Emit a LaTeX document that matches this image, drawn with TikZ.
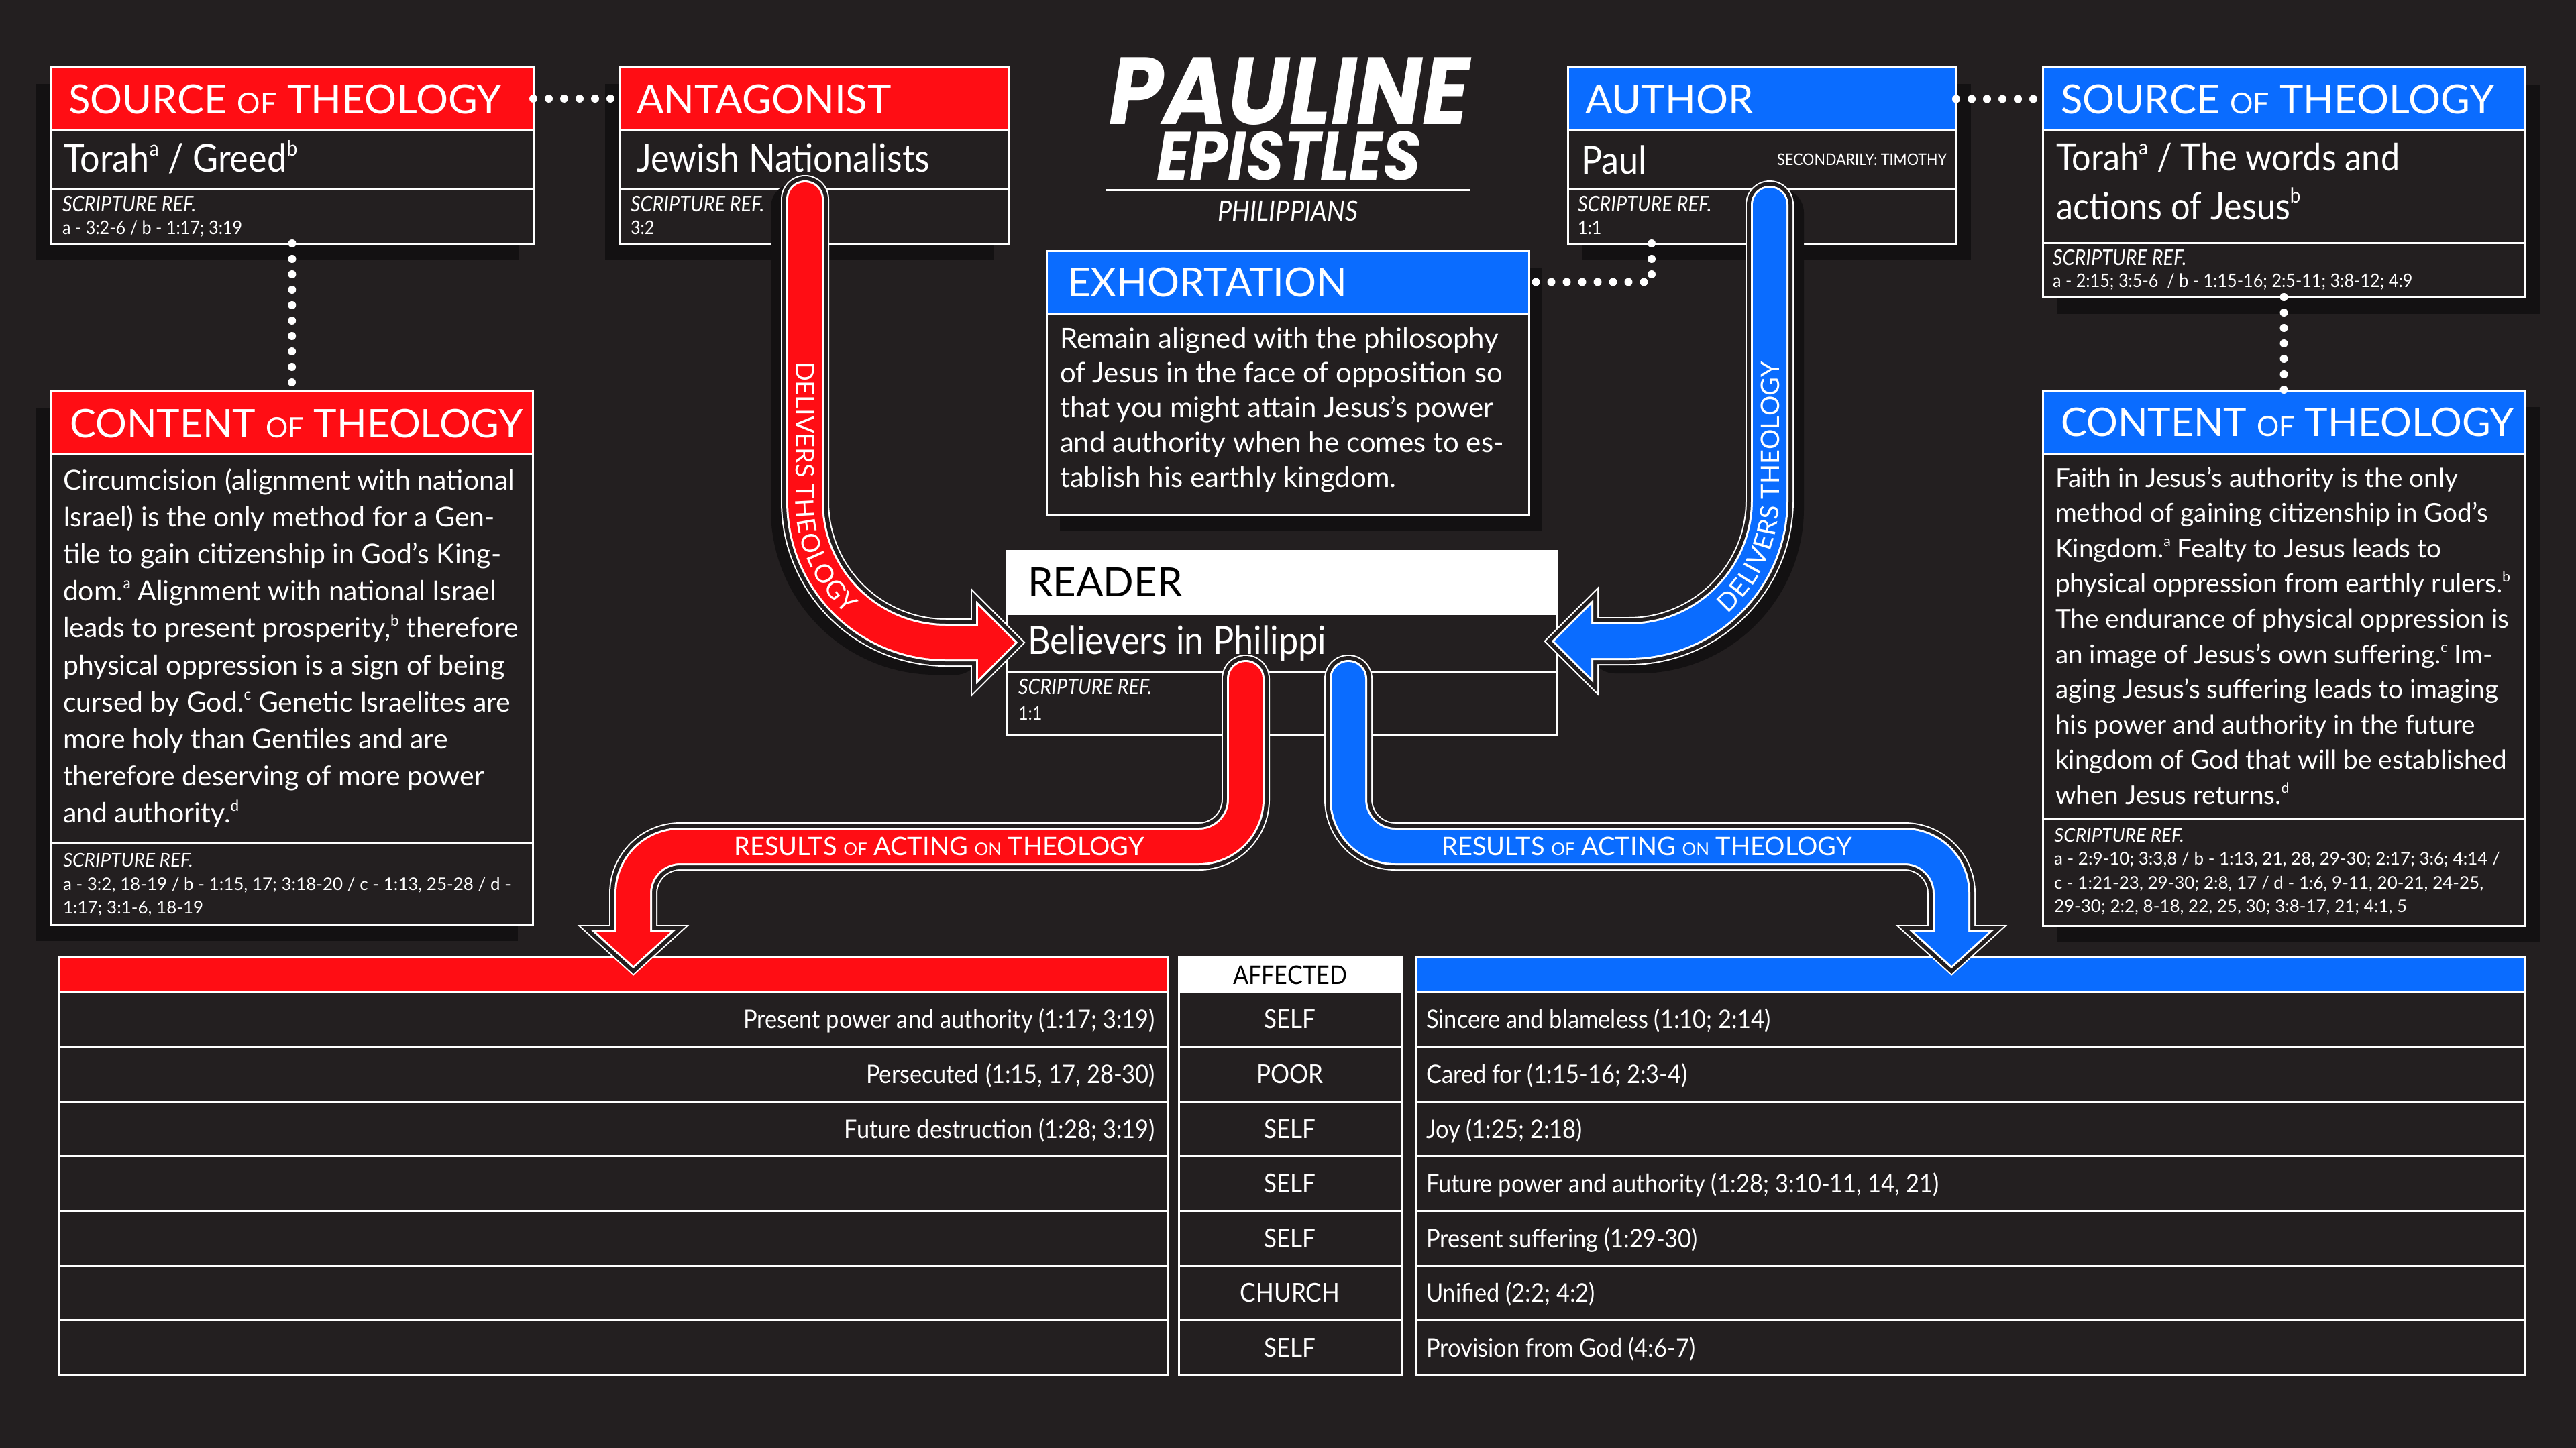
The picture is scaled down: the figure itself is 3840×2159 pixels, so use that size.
\documentclass[tikz,border=0pt]{standalone}
\usepackage{fontspec}
\usepackage{graphicx}
\setmainfont{Lato}
\newfontfamily\cond{Lato}[FakeStretch=0.9]
\newfontfamily\titlef{Poppins}
\usetikzlibrary{decorations.text}
\definecolor{bg}{RGB}{35,31,32}
\definecolor{shadowc}{RGB}{19,17,18}
\definecolor{myred}{RGB}{255,13,20}
\definecolor{myblue}{RGB}{10,108,255}
\newcommand\fs[1]{\fontsize{#1}{#1}\selectfont}
\newcommand\sups[1]{\raisebox{0.43em}{\scalebox{0.55}{#1}}}
\newcommand\cellnode[6]{\node[cell,fill=#6,minimum width={(#4-#2)*1pt},minimum height={(#5-#3)*1pt}] (#1) at (#2,-#3) {};}
\newcommand\shadowrect[5]{\fill[shadowc] ({#1+#5},{-#2-25}) rectangle ({#3+#5},{-#4-25});}
\newcommand\fancyarrow[4]{%
 \draw[white,line width=72pt,line cap=round,rounded corners=#4] #2;
 \filldraw[white,line width=22pt,line join=miter] #3;
 \draw[bg,line width=68pt,line cap=round,rounded corners=#4] #2;
 \filldraw[bg,line width=18pt,line join=miter] #3;
 \draw[white,line width=56pt,line cap=round,rounded corners=#4] #2;
 \filldraw[white,line width=6pt,line join=miter] #3;
 \draw[#1,line width=50pt,line cap=round,rounded corners=#4] #2;
 \fill[#1] #3;}
\tikzset{
 cell/.style={draw=white,line width=3pt,inner sep=0pt,outer sep=0pt,anchor=north west,rectangle},
 txt/.style={text=white,inner sep=0pt,outer sep=0pt,anchor=base west},
 dots/.style={white,line width=12pt,line cap=round,dash pattern=on 0pt off 23pt},
 reftitle/.style={txt,font=\cond\itshape\fs{32}},
 reftext/.style={txt,font=\cond\fs{28}},
 creftitle/.style={txt,font=\itshape\fs{28}},
 creftext/.style={txt,font=\fs{26}},
 tubeshadow/.style={shadowc,line width=72pt,line cap=round,rounded corners=210pt},
}
\begin{document}
\begin{tikzpicture}[x=1pt,y=1pt]
\fill[bg] (0,0) rectangle (3840,-2159);
\useasboundingbox (0,0) rectangle (3840,-2159);
% shadows
\shadowrect{76}{100}{795}{363}{-22}
\shadowrect{924}{100}{1503}{363}{-22}
\shadowrect{2337}{100}{2916}{363}{22}
\shadowrect{3045}{101}{3764}{443}{22}
\shadowrect{1560}{374}{2279}{767}{20}
\shadowrect{76}{583}{794}{1378}{-22}
\shadowrect{3045}{582}{3764}{1380}{22}
% boxes
\cellnode{srcLh}{76}{100}{795}{194}{myred}
\cellnode{srcLb}{76}{194}{795}{282}{bg}
\cellnode{srcLr}{76}{282}{795}{363}{bg}
\cellnode{antH}{924}{100}{1503}{194}{myred}
\cellnode{antB}{924}{194}{1503}{282}{bg}
\cellnode{antR}{924}{282}{1503}{363}{bg}
\cellnode{autH}{2337}{100}{2916}{195}{myblue}
\cellnode{autB}{2337}{195}{2916}{282}{bg}
\cellnode{autR}{2337}{282}{2916}{363}{bg}
\cellnode{srcRh}{3045}{101}{3764}{194}{myblue}
\cellnode{srcRb}{3045}{194}{3764}{362}{bg}
\cellnode{srcRr}{3045}{362}{3764}{443}{bg}
\cellnode{exH}{1560}{374}{2279}{467}{myblue}
\cellnode{exB}{1560}{467}{2279}{767}{bg}
\cellnode{conLh}{76}{583}{794}{677}{myred}
\cellnode{conLb}{76}{677}{794}{1257}{bg}
\cellnode{conLr}{76}{1257}{794}{1378}{bg}
\cellnode{conRh}{3045}{582}{3764}{676}{myblue}
\cellnode{conRb}{3045}{676}{3764}{1221}{bg}
\cellnode{conRr}{3045}{1221}{3764}{1380}{bg}
\cellnode{rdH}{1501}{821}{2321}{915}{white}
\cellnode{rdB}{1501}{915}{2321}{1002}{bg}
\cellnode{rdR}{1501}{1002}{2321}{1095}{bg}
% dotted connectors
\draw[dots] (srcLh.east) -- (antH.west);
\draw[dots] (autH.east) -- (srcRh.west);
\draw[dots] (srcLr.south) -- (conLh.north);
\draw[dots] (srcRr.south) -- (conRh.north);
\coordinate (exTop) at (2462,-363);
\draw[dots] (exTop) |- (exH.east);
% title
\node[font=\titlef\bfseries\itshape\fs{142},text=white,inner sep=0pt,anchor=base] (title1) at (1922,-186) {\scalebox{0.915}[1]{PAULINE}};
\node[font=\titlef\bfseries\itshape\fs{102},text=white,inner sep=0pt,anchor=base] (title2) at (1921,-269) {\scalebox{0.895}[1]{EPISTLES}};
\draw[white,line width=3pt] (1648,-284) -- (2191,-284);
\node[txt,anchor=base,font=\cond\itshape\fs{42}] (phil) at (1920,-329) {PHILIPPIANS};
% headers
\node[txt,font=\fs{60}] (tSrcL) at (102,-170) {SOURCE {\fs{43}OF} THEOLOGY};
\node[txt,font=\fs{60}] (tAnt) at (949,-170) {ANTAGONIST};
\node[txt,font=\fs{60}] (tAut) at (2363,-170) {AUTHOR};
\node[txt,font=\fs{60}] (tSrcR) at (3072,-170) {SOURCE {\fs{43}OF} THEOLOGY};
\node[txt,font=\fs{60}] (tEx) at (1591,-442) {EXHORTATION};
\node[txt,font=\fs{58.5}] (tConL) at (104,-652) {CONTENT {\fs{41.5}OF} THEOLOGY};
\node[txt,font=\fs{58.5}] (tConR) at (3072,-650) {CONTENT {\fs{41.5}OF} THEOLOGY};
\node[txt,text=black,font=\fs{60}] (tRd) at (1532,-889) {READER};
% row 2 texts
\node[txt,font=\cond\fs{58}] (tTG) at (95,-257) {Torah\sups{a} / Greed\sups{b}};
\node[txt,font=\cond\fs{58}] (tJN) at (949,-257) {Jewish Nationalists};
\node[txt,font=\cond\fs{58}] (tPaul) at (2357,-260) {Paul};
\node[txt,font=\cond\fs{24},anchor=base east] (tSec) at (2902,-247) {SECONDARILY: TIMOTHY};
\node[txt,font=\cond\fs{56}] (tTW1) at (3065,-255) {Torah\sups{a} / The words and};
\node[txt,font=\cond\fs{56}] (tTW2) at (3065,-327) {actions of Jesus\sups{b}};
\node[txt,font=\cond\fs{58}] (tBel) at (1532,-975) {Believers in Philippi};
% scripture refs
\node[reftitle] (s1a) at (93,-316) {SCRIPTURE REF.};
\node[reftext] (s1b) at (93,-349) {a - 3:2-6 / b - 1:17; 3:19};
\node[reftitle] (s2a) at (940,-316) {SCRIPTURE REF.};
\node[reftext] (s2b) at (940,-349) {3:2};
\node[reftitle] (s3a) at (2352,-316) {SCRIPTURE REF.};
\node[reftext] (s3b) at (2352,-349) {1:1};
\node[reftitle] (s4a) at (3060,-395) {SCRIPTURE REF.};
\node[reftext] (s4b) at (3060,-428) {a - 2:15; 3:5-6 \ / b - 1:15-16; 2:5-11; 3:8-12; 4:9};
\node[reftitle] (s5a) at (1518,-1035) {SCRIPTURE REF.};
\node[reftext] (s5b) at (1518,-1073) {1:1};
\node[creftitle] (c1a) at (94,-1292) {SCRIPTURE REF.};
\node[creftext] (c1b) at (94,-1327) {a - 3:2, 18-19 / b - 1:15, 17; 3:18-20 / c - 1:13, 25-28 / d -};
\node[creftext] (c1c) at (94,-1362) {1:17; 3:1-6, 18-19};
\node[creftitle] (c2a) at (3062,-1255) {SCRIPTURE REF.};
\node[creftext] (c2b) at (3062,-1289) {a - 2:9-10; 3:3,8 / b - 1:13, 21, 28, 29-30; 2:17; 3:6; 4:14 /};
\node[creftext] (c2c) at (3062,-1325) {c - 1:21-23, 29-30; 2:8, 17 / d - 1:6, 9-11, 20-21, 24-25,};
\node[creftext] (c2d) at (3062,-1360) {29-30; 2:2, 8-18, 22, 25, 30; 3:8-17, 21; 4:1, 5};
% body texts
\foreach \t [count=\i] in {{Circumcision (alignment with national},{Israel) is the only method for a Gen-},{tile to gain citizenship in God’s King-},{dom.\sups{a} Alignment with national Israel},{leads to present prosperity,\sups{b} therefore},{physical oppression is a sign of being},{cursed by God.\sups{c} Genetic Israelites are},{more holy than Gentiles and are},{therefore deserving of more power},{and authority.\sups{d}}}
 \node[txt,font=\fs{41}] (bl\i) at (94,{-730-(\i-1)*55.2}) {\t};
\foreach \t [count=\i] in {{Faith in Jesus’s authority is the only},{method of gaining citizenship in God’s},{Kingdom.\sups{a} Fealty to Jesus leads to},{physical oppression from earthly rulers.\sups{b}},{The endurance of physical oppression is},{an image of Jesus’s own suffering.\sups{c} Im-},{aging Jesus’s suffering leads to imaging},{his power and authority in the future},{kingdom of God that will be established},{when Jesus returns.\sups{d}}}
 \node[txt,font=\fs{38.8}] (br\i) at (3064,{-726-(\i-1)*52.6}) {\t};
\foreach \t [count=\i] in {{Remain aligned with the philosophy},{of Jesus in the face of opposition so},{that you might attain Jesus’s power},{and authority when he comes to es-},{tablish his earthly kingdom.}}
 \node[txt,font=\fs{42}] (be\i) at (1580,{-519-(\i-1)*51.75}) {\t};
% delivering arrows
\draw[tubeshadow,shift={(-15,-12)}] (1200,-297) -- (1200,-958) -- (1440,-958);
\draw[tubeshadow,shift={(15,-12)}] (2638,-305) -- (2638,-956) -- (2392,-956);
\coordinate (redStart) at (1200,-297);
\coordinate (blueStart) at (2638,-305);
\fancyarrow{myred}{(redStart) -- (1200,-958) -- (1460,-958)}{(1458,-903) -- (1513,-958) -- (1458,-1013) -- cycle}{210pt}
\fancyarrow{myblue}{(blueStart) -- (2638,-956) -- (2372,-956)}{(2372,-901) -- (2317,-956) -- (2372,-1011) -- cycle}{210pt}
\path[decorate,rounded corners=210pt,decoration={text along path,text={|\fs{38}|DELIVERS THEOLOGY},text color=white,text align={left indent=242pt},raise=-14pt}] (redStart) -- (1200,-958) -- (1460,-958);
\path[decorate,rounded corners=210pt,decoration={text along path,text={|\fs{38}|DELIVERS THEOLOGY},text color=white,text align={left indent=205pt},raise=-14pt}] (2372,-956) -- (2638,-956) -- (blueStart);
% tables
\cellnode{rH}{88}{1426}{1741}{1479}{myred}
\cellnode{aH}{1757}{1426}{2090}{1479}{white}
\cellnode{bH}{2110}{1426}{3763}{1479}{myblue}
\node[txt,anchor=base,text=black,font=\cond\fs{38}] (tAff) at (1923,-1467) {AFFECTED};
\foreach \k in {1,...,7}{
 \pgfmathsetmacro\ya{1479+(\k-1)*81.6}
 \pgfmathsetmacro\yb{\ya+81.6}
 \cellnode{rR\k}{88}{\ya}{1741}{\yb}{bg}
 \cellnode{aR\k}{1757}{\ya}{2090}{\yb}{bg}
 \cellnode{bR\k}{2110}{\ya}{3763}{\yb}{bg}
}
\foreach \k/\lt/\at/\bt in {1/{Present power and authority (1:17; 3:19)}/SELF/{Sincere and blameless (1:10; 2:14)},2/{Persecuted (1:15, 17, 28-30)}/POOR/{Cared for (1:15-16; 2:3-4)},3/{Future destruction (1:28; 3:19)}/SELF/{Joy (1:25; 2:18)},4/{}/SELF/{Future power and authority (1:28; 3:10-11, 14, 21)},5/{}/SELF/{Present suffering (1:29-30)},6/{}/CHURCH/{Unified (2:2; 4:2)},7/{}/SELF/{Provision from God (4:6-7)}}{
 \pgfmathsetmacro\yt{1479+(\k-0.5)*81.6+14}
 \node[txt,anchor=base east,font=\cond\fs{38.3}] (rt\k) at (1722,-\yt) {\lt};
 \node[txt,anchor=base,font=\cond\fs{39}] (at\k) at (1923,-\yt) {\at};
 \node[txt,font=\cond\fs{38.3}] (bt\k) at (2126,-\yt) {\bt};
}
% results arrows
\coordinate (resRedStart) at (1857,-1012);
\coordinate (resBlueStart) at (2010,-1012);
\fancyarrow{myred}{(resRedStart) -- (1857,-1262) -- (944,-1262) -- (944,-1390)}{(889,-1390) -- (999,-1390) -- (944,-1440) -- cycle}{70pt}
\fancyarrow{myblue}{(resBlueStart) -- (2010,-1262) -- (2909,-1262) -- (2909,-1390)}{(2854,-1390) -- (2964,-1390) -- (2909,-1440) -- cycle}{70pt}
\node[font=\fs{38},text=white,inner sep=0pt] (resL) at (1400,-1262) {RESULTS {\fs{26}OF} ACTING {\fs{26}ON} THEOLOGY};
\node[font=\fs{38},text=white,inner sep=0pt] (resR) at (2455,-1262) {RESULTS {\fs{26}OF} ACTING {\fs{26}ON} THEOLOGY};
\end{tikzpicture}
\end{document}
